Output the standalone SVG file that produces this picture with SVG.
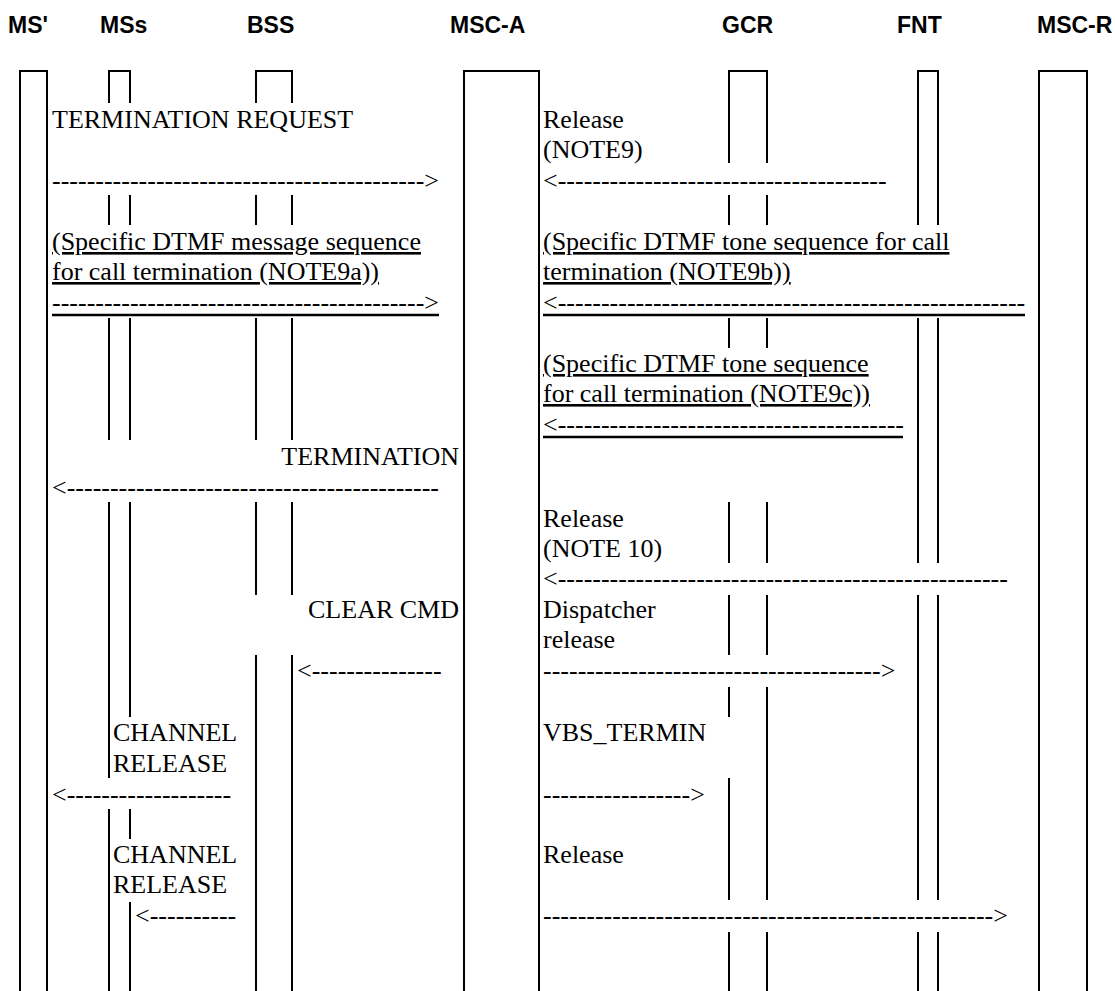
<svg xmlns="http://www.w3.org/2000/svg" width="1115" height="991" viewBox="0 0 1115 991">
  <style>
    .hdr { font-family: "Liberation Sans", Arial, sans-serif; font-weight: bold; font-size: 23px; fill: #000; }
    .t { font-family: "Liberation Serif", "Times New Roman", serif; font-size: 26px; fill: #000; }
    .u { text-decoration: underline; text-decoration-thickness: 2px; }
    .end { text-anchor: end; }
    .ll { fill: none; stroke: #000; stroke-width: 2; }
    .bar { stroke: #000; stroke-width: 2.5; }
  </style>
  <rect width="1115" height="991" fill="#fff"/>

  <!-- entity headers -->
  <g id="headers">
    <text class="hdr" x="8" y="33">MS'</text>
    <text class="hdr" x="100" y="33">MSs</text>
    <text class="hdr" x="247" y="33">BSS</text>
    <text class="hdr" x="450" y="33">MSC-A</text>
    <text class="hdr" x="722" y="33">GCR</text>
    <text class="hdr" x="897" y="33">FNT</text>
    <text class="hdr" x="1037" y="33">MSC-R</text>
  </g>

  <!-- lifelines -->
  <g id="node-ms-prime">
    <path class="ll" d="M20 991 V71 H47 V991"/>
  </g>
  <g id="node-mss">
    <path class="ll" d="M109 103 V71 H130 V103 M109 195 V225 M130 195 V225 M109 318 V440 M130 318 V440 M109 502 V778 M130 502 V717 M109 809 V991 M130 809 V839 M130 902 V991"/>
  </g>
  <g id="node-bss">
    <path class="ll" d="M256 103 V71 H292 V103 M256 195 V225 M292 195 V225 M256 318 V440 M292 318 V440 M256 502 V595 M292 502 V595 M256 655 V991 M292 655 V991"/>
  </g>
  <g id="node-msc-a">
    <path class="ll" d="M464 991 V71 H539 V991"/>
  </g>
  <g id="node-gcr">
    <path class="ll" d="M729 163 V71 H767 V163 M729 195 V225 M767 195 V225 M729 318 V348 M767 318 V348 M729 502 V563 M767 502 V563 M729 595 V655 M767 595 V655 M729 687 V717 M767 687 V900 M729 778 V900 M729 932 V991 M767 932 V991"/>
  </g>
  <g id="node-fnt">
    <path class="ll" d="M918 225 V71 H938 V225 M918 318 V563 M938 318 V563 M918 595 V900 M938 595 V900 M918 932 V991 M938 932 V991"/>
  </g>
  <g id="node-msc-r">
    <path class="ll" d="M1039 991 V71 H1087 V991"/>
  </g>

  <!-- message labels -->
  <g id="labels">
    <text class="t" x="52" y="128">TERMINATION REQUEST</text>
    <text class="t" x="543" y="128">Release</text>
    <text class="t" x="543" y="158">(NOTE9)</text>

    <text class="t u" x="52" y="250">(Specific DTMF message sequence</text>
    <text class="t u" x="52" y="280">for call termination (NOTE9a))</text>
    <text class="t u" x="543" y="250">(Specific DTMF tone sequence for call</text>
    <text class="t u" x="543" y="280">termination (NOTE9b))</text>

    <text class="t u" x="543" y="372">(Specific DTMF tone sequence</text>
    <text class="t u" x="543" y="402">for call termination (NOTE9c))</text>

    <text class="t end" x="459" y="465">TERMINATION</text>
    <text class="t" x="543" y="527">Release</text>
    <text class="t" x="543" y="557">(NOTE 10)</text>

    <text class="t end" x="459" y="618">CLEAR CMD</text>
    <text class="t" x="543" y="618">Dispatcher</text>
    <text class="t" x="543" y="648">release</text>

    <text class="t" x="113" y="741">CHANNEL</text>
    <text class="t" x="113" y="772">RELEASE</text>
    <text class="t" x="543" y="741">VBS_TERMIN</text>

    <text class="t" x="113" y="863">CHANNEL</text>
    <text class="t" x="113" y="893">RELEASE</text>
    <text class="t" x="543" y="863">Release</text>
  </g>

  <!-- connectors (typed dash arrows) -->
  <g id="connectors">
    <text class="t" x="52" y="189">-------------------------------------------&gt;</text>
    <text class="t" x="543" y="189">&lt;--------------------------------------</text>

    <text class="t" x="52" y="311">-------------------------------------------&gt;</text>
    <line class="bar" x1="52" y1="315" x2="439" y2="315"/>
    <text class="t" x="543" y="311">&lt;------------------------------------------------------</text>
    <line class="bar" x1="543" y1="315" x2="1025" y2="315"/>

    <text class="t" x="543" y="433">&lt;----------------------------------------</text>
    <line class="bar" x1="543" y1="437" x2="903" y2="437"/>

    <text class="t" x="52" y="496">&lt;-------------------------------------------</text>
    <text class="t" x="543" y="587">&lt;----------------------------------------------------</text>

    <text class="t" x="297" y="679">&lt;---------------</text>
    <text class="t" x="543" y="679">---------------------------------------&gt;</text>

    <text class="t" x="52" y="803">&lt;-------------------</text>
    <text class="t" x="543" y="803">-----------------&gt;</text>

    <text class="t" x="135" y="924">&lt;----------</text>
    <text class="t" x="543" y="924">----------------------------------------------------&gt;</text>
  </g>
</svg>
